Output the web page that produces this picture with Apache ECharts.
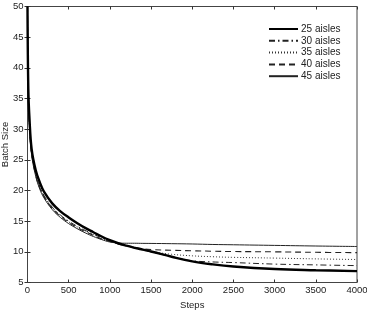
<!DOCTYPE html>
<html>
<head>
<meta charset="utf-8">
<script src="https://cdn.jsdelivr.net/npm/echarts@6/dist/echarts.min.js"></script>
<style>
  html, body { margin: 0; padding: 0; background: #fff; }
  #chart { width: 367px; height: 311px; }
</style>
</head>
<body>
<div id="chart"></div>
<script>
const steps = [0, 10, 25, 50, 100, 150, 200, 300, 400, 500, 600, 700, 800, 900, 1000,
  1100, 1200, 1300, 1400, 1500, 1750, 2000, 2250, 2500, 3000, 3500, 4000];

const aisles25 = [50, 36.5, 31.5, 26.8, 23.3, 21.3, 19.8, 17.9, 16.6, 15.6, 14.7, 13.9, 13.2, 12.5, 11.9,
  11.4, 11.0, 10.65, 10.35, 10.05, 9.2, 8.45, 7.95, 7.6, 7.2, 7.0, 6.85];
const aisles30 = [50, 35.4, 30.4, 26.2, 22.7, 20.6, 19.2, 17.3, 16.0, 15.0, 14.2, 13.5, 12.9, 12.3, 11.8,
  11.35, 11.0, 10.7, 10.35, 10.0, 9.2, 8.55, 8.35, 8.25, 8.0, 7.87, 7.75];
const aisles35 = [50, 35.3, 30.3, 26.1, 22.6, 20.5, 19.1, 17.2, 15.9, 14.9, 14.1, 13.4, 12.8, 12.2, 11.75,
  11.3, 10.95, 10.6, 10.3, 10.05, 9.6, 9.35, 9.2, 9.1, 8.98, 8.85, 8.75];
const aisles40 = [50, 35.2, 30.2, 26.0, 22.5, 20.4, 19.0, 17.1, 15.8, 14.8, 14.0, 13.3, 12.7, 12.1, 11.7,
  11.3, 11.0, 10.75, 10.5, 10.38, 10.25, 10.17, 10.1, 10.05, 10.0, 9.92, 9.87];
const aisles45 = [50, 35, 30, 25.8, 22.3, 20.2, 18.8, 16.9, 15.6, 14.6, 13.8, 13.1, 12.5, 12.0, 11.6,
  11.45, 11.4, 11.4, 11.38, 11.37, 11.33, 11.28, 11.2, 11.15, 11.05, 10.95, 10.87];

const seriesNames = ["25 aisles", "30 aisles", "35 aisles", "40 aisles", "45 aisles"];
const xTicks = [0, 4000, 500];
const yTicks = [5, 50, 5];

const font = "Liberation Sans, Arial, sans-serif";
const toPairs = (vals) => steps.map((s, i) => [s, vals[i]]);

const chart = echarts.init(document.getElementById("chart"));

const baseAxis = {
  type: "value",
  axisLine: { show: false },
  axisTick: { show: true, inside: true, length: 3, lineStyle: { color: "#333" } },
  splitLine: { show: false },
};

const line = (name, vals, width, type, color) => ({
  name,
  type: "line",
  data: toPairs(vals),
  smooth: 0.4,
  symbol: "none",
  lineStyle: { width, type, color },
  itemStyle: { color },
});

chart.setOption({
  animation: false,
  grid: {
    left: 27.5,
    right: 10,
    top: 6.5,
    bottom: 28.5,
    outerBoundsMode: "none",
    containLabel: false,
    show: true,
    borderColor: "#444",
    borderWidth: 1,
  },
  legend: {
    left: 263,
    top: 19,
    orient: "vertical",
    itemWidth: 29,
    itemHeight: 8,
    itemGap: 1.8,
    itemStyle: { opacity: 0 },
    textStyle: { fontFamily: font, fontSize: 10, color: "#222", padding: [0, 0, 0, -2] },
    data: seriesNames,
  },
  xAxis: [
    {
      ...baseAxis,
      min: xTicks[0],
      max: xTicks[1],
      interval: xTicks[2],
      name: "Steps",
      nameLocation: "middle",
      nameGap: 13,
      nameTextStyle: { fontFamily: font, fontSize: 9.5, color: "#222" },
      axisLabel: { fontFamily: font, fontSize: 9.5, color: "#222", margin: 3, formatter: (v) => String(v) },
    },
    {
      ...baseAxis,
      position: "top",
      min: xTicks[0],
      max: xTicks[1],
      interval: xTicks[2],
      axisLabel: { show: false },
    },
  ],
  yAxis: [
    {
      ...baseAxis,
      min: yTicks[0],
      max: yTicks[1],
      interval: yTicks[2],
      name: "Batch Size",
      nameLocation: "middle",
      nameGap: 17,
      nameMoveOverlap: false,
      nameTextStyle: { fontFamily: font, fontSize: 9.5, color: "#222" },
      axisLabel: { fontFamily: font, fontSize: 9.5, color: "#222", margin: 4 },
    },
    {
      ...baseAxis,
      position: "right",
      min: yTicks[0],
      max: yTicks[1],
      interval: yTicks[2],
      axisLabel: { show: false },
    },
  ],
  series: [
    line(seriesNames[4], aisles45, 1, "solid", "#222"),
    line(seriesNames[3], aisles40, 1.1, [6, 4], "#222"),
    line(seriesNames[2], aisles35, 1, [1, 2], "#333"),
    line(seriesNames[1], aisles30, 1, [6, 3, 1.5, 3], "#222"),
    line(seriesNames[0], aisles25, 2.4, "solid", "#000"),
  ],
});
</script>
</body>
</html>
